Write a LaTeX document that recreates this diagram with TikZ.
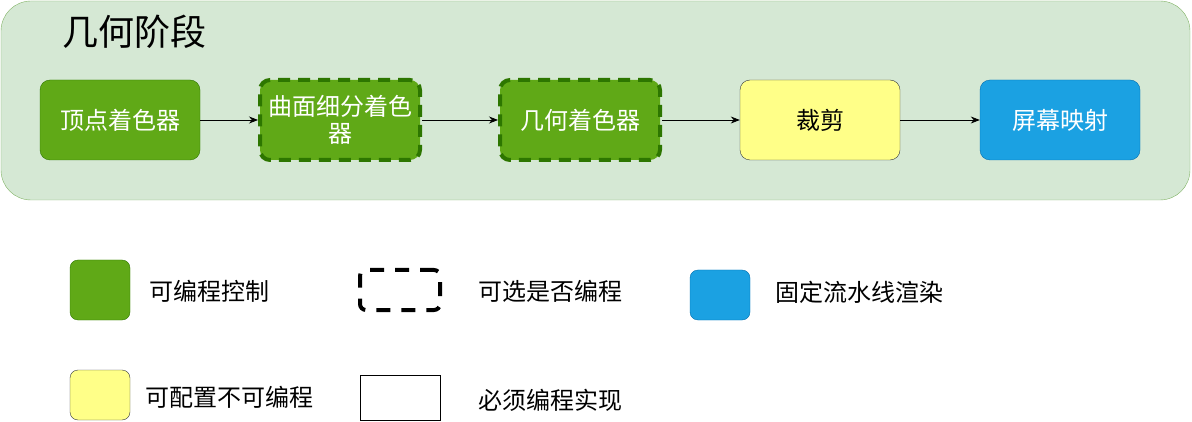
\documentclass[tikz,border=0pt]{standalone}
\usepackage{fontspec}
\setmainfont{Noto Sans CJK SC}
\usepackage{tikz}
\usetikzlibrary{arrows.meta,positioning}
\definecolor{stagefill}{HTML}{D5E8D4}
\definecolor{stagedraw}{HTML}{82B366}
\definecolor{progfill}{HTML}{60A917}
\definecolor{progdraw}{HTML}{2D7600}
\definecolor{cfgfill}{HTML}{FFFF88}
\definecolor{cfgdraw}{HTML}{36393D}
\definecolor{fixfill}{HTML}{1BA1E2}
\definecolor{fixdraw}{HTML}{006EAF}

\begin{document}
\begin{tikzpicture}[x=1pt,y=1pt,>={Stealth[length=9pt,width=7pt]},
  gbx/.style={draw=progdraw,fill=progfill,rounded corners=10pt,
              minimum width=160pt,minimum height=80pt,inner sep=2pt,
              align=center,text=white,font=\fontsize{24}{27}\selectfont},
  optbx/.style={gbx,line width=4pt,dash pattern=on 12pt off 8pt},
  ybx/.style={gbx,draw=cfgdraw,fill=cfgfill,text=black},
  bbx/.style={gbx,draw=fixdraw,fill=fixfill},
  lbl/.style={anchor=west,font=\fontsize{24}{27}\selectfont,inner sep=0pt}]
  \useasboundingbox (0,0) rectangle (1192,-422);
  % geometry stage container
  \draw[draw=stagedraw,fill=stagefill,rounded corners=30pt]
    (1,-1) rectangle (1190,-200);
  \node[anchor=west,font=\fontsize{36}{40}\selectfont,inner sep=0pt](title) at (62,-32) {几何阶段};

  \node[gbx](vs)    at (120,-120)  {顶点着色器};
  \node[optbx](tess) at (340,-120) {曲面细分着色\\器};
  \node[optbx](gs)  at (580,-120)  {几何着色器};
  \node[ybx](clip)  at (820,-120)  {裁剪};
  \node[bbx](scr)   at (1060,-120) {屏幕映射};

  \foreach \i/\j in {vs/tess,tess/gs,gs/clip,clip/scr}{
    \draw[->,thick](\i)--(\j);}

  % legend
  \node[gbx,minimum width=60pt,minimum height=60pt,rounded corners=8pt](lgprog) at (100,-290) {};
  \node[lbl](lgprogt) at (149,-291) {可编程控制};
  \node[draw,line width=4pt,dash pattern=on 14pt off 11pt,rounded corners=6pt,
        minimum width=80pt,minimum height=40pt](lgopt) at (400,-290) {};
  \node[lbl](lgoptt) at (478,-291) {可选是否编程};
  \node[bbx,minimum width=60pt,minimum height=50pt,rounded corners=8pt](lgfix) at (720,-295) {};
  \node[lbl](lgfixt) at (775,-292) {固定流水线渲染};
  \node[ybx,minimum width=60pt,minimum height=50pt,rounded corners=8pt](lgcfg) at (100,-395) {};
  \node[lbl](lgcfgt) at (145,-397) {可配置不可编程};
  \node[draw,minimum width=80pt,minimum height=45pt](lgimp) at (400,-397.5) {};
  \node[lbl](lgimpt) at (478,-400) {必须编程实现};
\end{tikzpicture}
\end{document}
